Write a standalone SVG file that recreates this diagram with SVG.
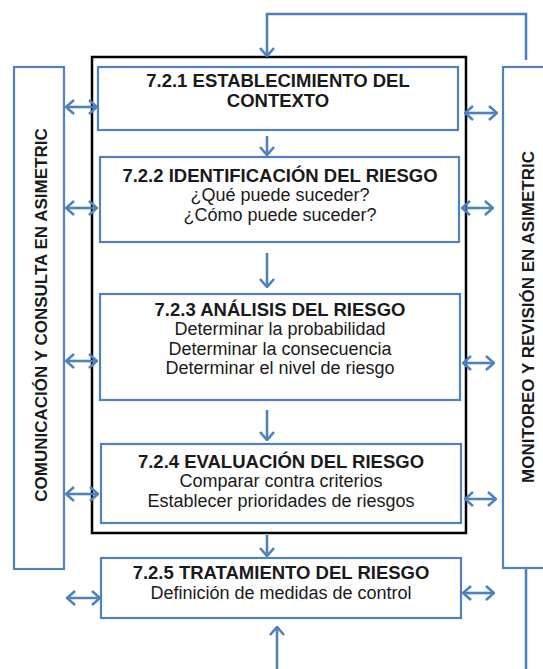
<svg xmlns="http://www.w3.org/2000/svg" width="543" height="669" viewBox="0 0 543 669">
<style>
.box{fill:#fff;stroke:#4F81BD;stroke-width:2.2}
.frame{fill:none;stroke:#000;stroke-width:2.5}
.con{fill:none;stroke:#4F81BD;stroke-width:2.6}
.t{font-family:"Liberation Sans",Arial,sans-serif;font-weight:bold;font-size:18.5px;fill:#1a1a1a;text-anchor:middle}
.b{font-family:"Liberation Sans",Arial,sans-serif;font-size:18px;fill:#1a1a1a;text-anchor:middle}
.v{font-family:"Liberation Sans",Arial,sans-serif;font-weight:bold;font-size:17px;fill:#1a1a1a;text-anchor:middle}
</style>
<defs>
<marker id="chev" viewBox="0 0 10 16" refX="9" refY="8" markerWidth="10" markerHeight="16" orient="auto-start-reverse" markerUnits="userSpaceOnUse">
<path d="M1,1 L9,8 L1,15" fill="none" stroke="#4F81BD" stroke-width="2.6"/>
</marker>
</defs>
<g id="frame"><rect class="frame" x="92" y="57" width="374" height="476"/></g>
<g id="comunicacion">
<rect class="box" x="14" y="67" width="50" height="502"/>
<text class="v" transform="translate(47,315) rotate(-90)">COMUNICACIÓN Y CONSULTA EN ASIMETRIC</text>
</g>
<g id="monitoreo">
<rect class="box" x="503" y="67" width="60" height="501"/>
<text class="v" transform="translate(534,317) rotate(-90)">MONITOREO Y REVISIÓN EN ASIMETRIC</text>
</g>
<g id="n721">
<rect class="box" x="98" y="67" width="360" height="63"/>
<text class="t" x="278" y="87">7.2.1 ESTABLECIMIENTO DEL</text>
<text class="t" x="278" y="107">CONTEXTO</text>
</g>
<g id="n722">
<rect class="box" x="100" y="157" width="359" height="85"/>
<text class="t" x="280" y="182">7.2.2 IDENTIFICACIÓN DEL RIESGO</text>
<text class="b" x="280" y="201">¿Qué puede suceder?</text>
<text class="b" x="280" y="221">¿Cómo puede suceder?</text>
</g>
<g id="n723">
<rect class="box" x="100" y="294" width="360" height="106"/>
<text class="t" x="280" y="316">7.2.3 ANÁLISIS DEL RIESGO</text>
<text class="b" x="280" y="335">Determinar la probabilidad</text>
<text class="b" x="280" y="354.5">Determinar la consecuencia</text>
<text class="b" x="280" y="374">Determinar el nivel de riesgo</text>
</g>
<g id="n724">
<rect class="box" x="101" y="444" width="360" height="79"/>
<text class="t" x="281" y="468">7.2.4 EVALUACIÓN DEL RIESGO</text>
<text class="b" x="281" y="487">Comparar contra criterios</text>
<text class="b" x="281" y="507">Establecer prioridades de riesgos</text>
</g>
<g id="n725">
<rect class="box" x="101" y="558" width="360" height="60"/>
<text class="t" x="281" y="579">7.2.5 TRATAMIENTO DEL RIESGO</text>
<text class="b" x="281" y="599">Definición de medidas de control</text>
</g>
<g id="connectors">
<path class="con" d="M526,60 V14 H267 V56" marker-end="url(#chev)"/>
<path class="con" d="M526,568 V669"/>
<path class="con" d="M277,669 V627" marker-end="url(#chev)"/>
<path class="con" d="M267,136 V155" marker-end="url(#chev)"/>
<path class="con" d="M267,253 V287" marker-end="url(#chev)"/>
<path class="con" d="M267,410 V440" marker-end="url(#chev)"/>
<path class="con" d="M267,535 V556" marker-end="url(#chev)"/>
<path class="con" d="M66,107 H97" marker-start="url(#chev)" marker-end="url(#chev)"/>
<path class="con" d="M66,208 H97" marker-start="url(#chev)" marker-end="url(#chev)"/>
<path class="con" d="M66,361 H97" marker-start="url(#chev)" marker-end="url(#chev)"/>
<path class="con" d="M66,494 H98" marker-start="url(#chev)" marker-end="url(#chev)"/>
<path class="con" d="M67,598 H100" marker-start="url(#chev)" marker-end="url(#chev)"/>
<path class="con" d="M465,113 H497" marker-start="url(#chev)" marker-end="url(#chev)"/>
<path class="con" d="M462,208 H493" marker-start="url(#chev)" marker-end="url(#chev)"/>
<path class="con" d="M463,363 H494" marker-start="url(#chev)" marker-end="url(#chev)"/>
<path class="con" d="M465,499 H496" marker-start="url(#chev)" marker-end="url(#chev)"/>
<path class="con" d="M463,593 H494" marker-start="url(#chev)" marker-end="url(#chev)"/>
</g>
</svg>
